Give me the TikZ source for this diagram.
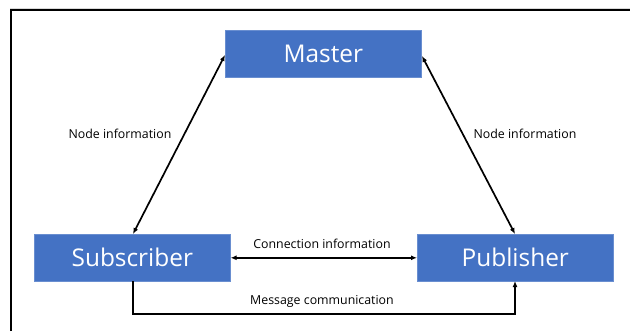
\documentclass[tikz,border=0pt]{standalone}
\usepackage{fontspec}
\setmainfont{Open Sans}
\usetikzlibrary{arrows.meta}
\definecolor{boxblue}{HTML}{4472C4}
\begin{document}
\begin{tikzpicture}[x=1bp,y=-1bp,
  box/.style={fill=boxblue,draw=boxblue!80!white,line width=0.6bp,minimum width=196bp,minimum height=47bp,inner sep=0pt,text=white,font=\fontsize{24.5}{28}\selectfont,anchor=north west},
  lbl/.style={font=\fontsize{12.4}{14}\selectfont,inner sep=0pt},
  conn/.style={line width=1.7bp,{Latex[length=6bp,width=5bp]}-{Latex[length=6bp,width=5bp]}},
  conn1/.style={line width=1.7bp,-{Latex[length=6bp,width=5bp]}}]
\useasboundingbox (0,0) rectangle (630,331);
\draw[gray!30,line width=0.8bp] (10,8) -- (630,8);
\draw[line width=2bp] (10.5,331) -- (10.5,10) -- (630,10);
\node[box] (m) at (225,30) {Master};
\node[box] (s) at (34,234) {Subscriber};
\node[box] (p) at (417,234) {Publisher};
\coordinate (sm) at (133,234);
\coordinate (ms) at (225,55);
\coordinate (pm) at (515,234);
\coordinate (mp) at (422,56);
\draw[conn] (sm) -- (ms);
\draw[conn] (pm) -- (mp);
\draw[conn] (s.east) -- (p.west);
\coordinate (sb) at (133,281);
\coordinate (pb) at (515,281);
\draw[conn1] (sb) -- (133,314) -| (pb);
\node[lbl] (l1) at (120,134) {Node information};
\node[lbl] (l2) at (525,134) {Node information};
\node[lbl] (l3) at (322,244) {Connection information};
\node[lbl] (l4) at (322,301) {Message communication};
\end{tikzpicture}
\end{document}
